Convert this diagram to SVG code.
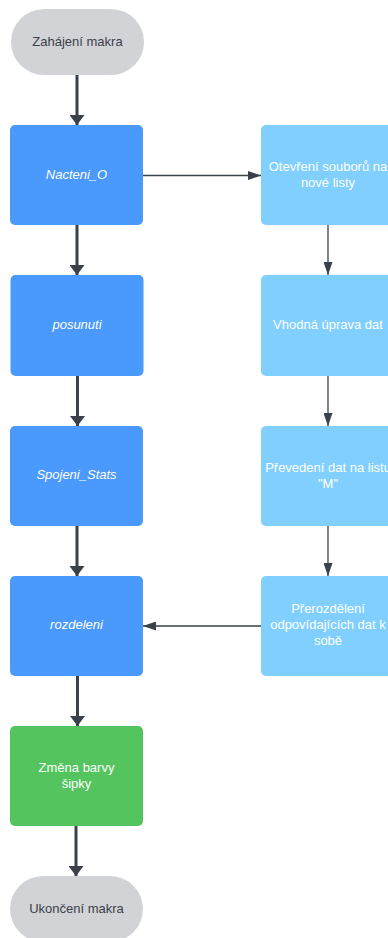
<svg xmlns="http://www.w3.org/2000/svg" width="388" height="938" viewBox="0 0 388 938">
<style>
text{font-family:"Liberation Sans",Arial,sans-serif;font-size:13px;text-anchor:middle;dominant-baseline:central}
.term{fill:#d2d3d6}
.tt{fill:#3a414a}
.blue{fill:#4a99fd}
.lblue{fill:#80cfff}
.green{fill:#54c45e}
.w{fill:#ffffff}
.i{font-style:italic}
.thick{stroke:#3a414a;stroke-width:3;fill:none}
.thin{stroke:#3a414a;stroke-width:1.3;fill:none}
</style>
<defs>
<marker id="ah" viewBox="0 0 10 15" refX="10" refY="7.5" markerWidth="10" markerHeight="15" markerUnits="userSpaceOnUse" orient="auto">
<path d="M0,0 L10,7.5 L0,15 Z" fill="#3a414a"/>
</marker>
<marker id="ahs" viewBox="0 0 13 9" refX="13" refY="4.5" markerWidth="13" markerHeight="9" markerUnits="userSpaceOnUse" orient="auto">
<path d="M0,0 L13,4.5 L0,9 Z" fill="#3a414a"/>
</marker>
</defs>
<g id="connectors">
<path class="thick" d="M77,75 V125" marker-end="url(#ah)" transform=""/>
<path class="thick" d="M77,225 V275" marker-end="url(#ah)"/>
<path class="thick" d="M77.5,376 V426" marker-end="url(#ah)"/>
<path class="thick" d="M77,526 V576" marker-end="url(#ah)"/>
<path class="thick" d="M77.5,676 V726" marker-end="url(#ah)"/>
<path class="thick" d="M76,826 V876" marker-end="url(#ah)"/>
<path class="thin" d="M143,175.5 H261" marker-end="url(#ahs)"/>
<path class="thin" d="M328,225 V275" marker-end="url(#ahs)"/>
<path class="thin" d="M328,376 V426" marker-end="url(#ahs)"/>
<path class="thin" d="M328,526 V576" marker-end="url(#ahs)"/>
<path class="thin" d="M261,626 H143" marker-end="url(#ahs)"/>
</g>
<g id="start">
<rect class="term" x="11" y="9" width="133" height="66" rx="33"/>
<text class="tt" x="77.5" y="41">Zahájení makra</text>
</g>
<g id="nacteni">
<rect class="blue" x="10" y="125" width="133" height="100" rx="5"/>
<text class="w i" x="76.5" y="174">Nacteni_O</text>
</g>
<g id="posunuti">
<rect class="blue" x="10.5" y="275" width="133" height="101" rx="5"/>
<text class="w i" x="77" y="324">posunuti</text>
</g>
<g id="spojeni">
<rect class="blue" x="10" y="426" width="133" height="100" rx="5"/>
<text class="w i" x="76.5" y="474">Spojeni_Stats</text>
</g>
<g id="rozdeleni">
<rect class="blue" x="10" y="576" width="133" height="100" rx="5"/>
<text class="w i" x="76.5" y="624">rozdeleni</text>
</g>
<g id="zmena">
<rect class="green" x="10" y="726" width="133" height="100" rx="5"/>
<text class="w" x="76.5" y="767">Změna barvy</text>
<text class="w" x="76.5" y="783">šipky</text>
</g>
<g id="end">
<rect class="term" x="10" y="876" width="133" height="66" rx="33"/>
<text class="tt" x="76.5" y="908">Ukončení makra</text>
</g>
<g id="otevreni">
<rect class="lblue" x="261" y="125" width="134" height="100" rx="5"/>
<text class="w" x="328" y="166">Otevření souborů na</text>
<text class="w" x="328" y="182">nové listy</text>
</g>
<g id="uprava">
<rect class="lblue" x="261" y="275" width="134" height="101" rx="5"/>
<text class="w" x="328" y="324">Vhodná úprava dat</text>
</g>
<g id="prevedeni">
<rect class="lblue" x="261" y="426" width="134" height="100" rx="5"/>
<text class="w" x="328" y="467">Převedení dat na listu</text>
<text class="w" x="328" y="483">"M"</text>
</g>
<g id="prerozdeleni">
<rect class="lblue" x="261" y="576" width="134" height="100" rx="5"/>
<text class="w" x="328" y="608">Přerozdělení</text>
<text class="w" x="328" y="624">odpovídajících dat k</text>
<text class="w" x="328" y="640">sobě</text>
</g>
</svg>
